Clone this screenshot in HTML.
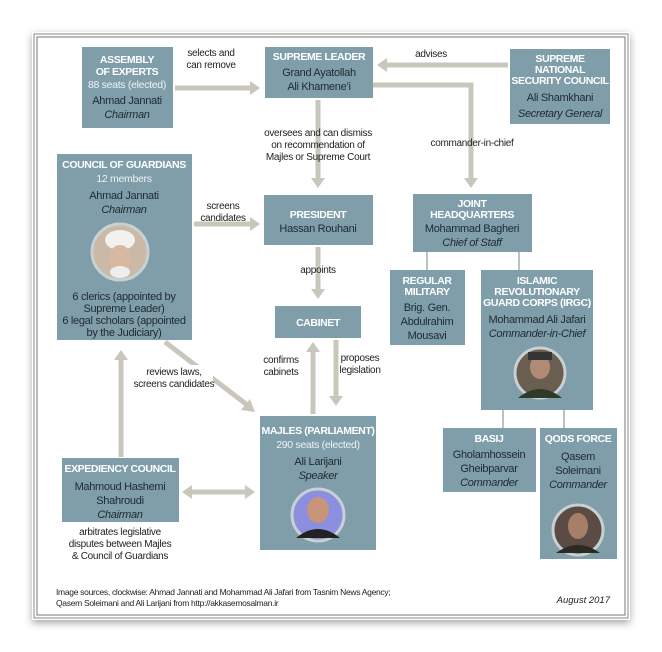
<!DOCTYPE html>
<html><head><meta charset="utf-8"><style>
body{margin:0;background:#fff;}
svg{display:block;font-family:"Liberation Sans",sans-serif;}
.h{fill:#fff;font-weight:bold;font-size:10.5px;letter-spacing:-0.4px}
.t{fill:#1e2a30;font-size:11px;letter-spacing:-0.3px}
.w{fill:#eef3f5;font-size:10.5px;letter-spacing:-0.3px}
.i{font-style:italic}
.l{fill:#222;font-size:10px;letter-spacing:-0.3px}
.b{fill:#7f9ea9}
.a{stroke:#c9c7bc;stroke-width:5;fill:none}
.ah{fill:#c9c7bc}
.th{stroke:#8a999f;stroke-width:1.2}
</style></head><body>
<svg width="662" height="652" viewBox="0 0 662 652" text-anchor="middle">
<defs><filter id="s" x="-5%" y="-5%" width="110%" height="110%"><feDropShadow dx="0" dy="3" stdDeviation="4" flood-opacity="0.35"/></filter></defs>
<rect x="0" y="0" width="662" height="652" fill="#fff"/>
<rect x="32" y="32" width="598" height="588" fill="#fff" filter="url(#s)"/>
<rect x="34" y="34" width="594" height="584" fill="none" stroke="#888" stroke-width="1"/>
<rect x="37" y="37" width="588" height="578" fill="none" stroke="#777" stroke-width="1"/>

<!-- arrows -->
<line class="a" x1="175" y1="88" x2="250" y2="88"/><polygon class="ah" points="250,81 260,88 250,95"/>
<line class="a" x1="508" y1="65" x2="387" y2="65"/><polygon class="ah" points="387,58 377,65 387,72"/>
<polyline class="a" points="373,85 471,85 471,178"/><polygon class="ah" points="464,178 471,188 478,178"/>
<line class="a" x1="318" y1="100" x2="318" y2="178"/><polygon class="ah" points="311,178 318,188 325,178"/>
<line class="a" x1="194" y1="224" x2="250" y2="224"/><polygon class="ah" points="250,217 260,224 250,231"/>
<line class="a" x1="318" y1="247" x2="318" y2="289"/><polygon class="ah" points="311,289 318,299 325,289"/>
<line class="a" x1="313" y1="414" x2="313" y2="352"/><polygon class="ah" points="306,352 313,342 320,352"/>
<line class="a" x1="336" y1="340" x2="336" y2="396"/><polygon class="ah" points="329,396 336,406 343,396"/>
<line class="a" x1="165" y1="342" x2="246" y2="404"/><polygon class="ah" points="241,410 255,412 250,399"/>
<line class="a" x1="121" y1="457" x2="121" y2="360"/><polygon class="ah" points="114,360 121,350 128,360"/>
<line class="a" x1="192" y1="492" x2="245" y2="492"/><polygon class="ah" points="192,485 182,492 192,499"/><polygon class="ah" points="245,485 255,492 245,499"/>
<line class="th" x1="427" y1="252" x2="427" y2="271"/><line class="th" x1="519" y1="252" x2="519" y2="271"/>
<line class="th" x1="503" y1="409" x2="503" y2="429"/><line class="th" x1="564" y1="409" x2="564" y2="429"/>
<rect x="137" y="365" width="76" height="25" fill="#fff"/>

<!-- boxes -->
<rect class="b" x="82" y="47" width="91" height="81"/>
<rect class="b" x="265" y="47" width="108" height="51"/>
<rect class="b" x="510" y="49" width="100" height="75"/>
<rect class="b" x="57" y="154" width="135" height="186"/>
<rect class="b" x="264" y="195" width="109" height="50"/>
<rect class="b" x="413" y="194" width="119" height="58"/>
<rect class="b" x="390" y="270" width="75" height="75"/>
<rect class="b" x="481" y="270" width="112" height="140"/>
<rect class="b" x="275" y="306" width="86" height="32"/>
<rect class="b" x="260" y="416" width="116" height="134"/>
<rect class="b" x="62" y="458" width="117" height="64"/>
<rect class="b" x="443" y="428" width="93" height="64"/>
<rect class="b" x="540" y="428" width="77" height="131"/>

<!-- photos -->
<g stroke="#c8d0d3" stroke-width="3">
<circle cx="120" cy="252" r="28" fill="#c9b9a6"/>
<circle cx="540" cy="373" r="25" fill="#6a5e50"/>
<circle cx="318" cy="515" r="26" fill="#8c8fe0"/>
<circle cx="578" cy="530" r="25" fill="#5a4c44"/>
</g>
<ellipse cx="120" cy="240" rx="15" ry="10" fill="#f1f1ee"/><ellipse cx="120" cy="258" rx="11" ry="13" fill="#d7b8a0"/><ellipse cx="120" cy="272" rx="10" ry="6" fill="#eee"/>
<ellipse cx="540" cy="367" rx="10" ry="12" fill="#b08a74"/><rect x="528" y="352" width="24" height="8" fill="#333"/><path d="M518 398 Q540 380 562 398Z" fill="#2f3a28"/>
<ellipse cx="318" cy="510" rx="11" ry="13" fill="#c8957a"/><path d="M296 538 Q318 520 340 538Z" fill="#222"/>
<ellipse cx="578" cy="526" rx="10" ry="13" fill="#a77e67"/><path d="M556 553 Q578 537 600 553Z" fill="#2c2a22"/>

<!-- text -->
<text class="h" x="127" y="63">ASSEMBLY</text><text class="h" x="127" y="75">OF EXPERTS</text>
<text class="w" x="127" y="88">88 seats (elected)</text>
<text class="t" x="127" y="104">Ahmad Jannati</text><text class="t i" x="127" y="118">Chairman</text>

<text class="h" x="319" y="60">SUPREME LEADER</text>
<text class="t" x="319" y="76">Grand Ayatollah</text><text class="t" x="319" y="90">Ali Khamene’i</text>

<text class="h" x="560" y="62">SUPREME</text><text class="h" x="560" y="73">NATIONAL</text><text class="h" x="560" y="84">SECURITY COUNCIL</text>
<text class="t" x="560" y="101">Ali Shamkhani</text><text class="t i" x="560" y="117">Secretary General</text>

<text class="h" x="124" y="168">COUNCIL OF GUARDIANS</text>
<text class="w" x="124" y="182">12 members</text>
<text class="t" x="124" y="199">Ahmad Jannati</text><text class="t i" x="124" y="213">Chairman</text>
<text class="t" x="124" y="300">6 clerics (appointed by</text><text class="t" x="124" y="312">Supreme Leader)</text>
<text class="t" x="124" y="324">6 legal scholars (appointed</text><text class="t" x="124" y="336">by the Judiciary)</text>

<text class="h" x="318" y="218">PRESIDENT</text><text class="t" x="318" y="232">Hassan Rouhani</text>

<text class="h" x="472" y="207">JOINT</text><text class="h" x="472" y="218">HEADQUARTERS</text>
<text class="t" x="472" y="232">Mohammad Bagheri</text><text class="t i" x="472" y="246">Chief of Staff</text>

<text class="h" x="427" y="284">REGULAR</text><text class="h" x="427" y="295">MILITARY</text>
<text class="t" x="427" y="311">Brig. Gen.</text><text class="t" x="427" y="325">Abdulrahim</text><text class="t" x="427" y="339">Mousavi</text>

<text class="h" x="537" y="284">ISLAMIC</text><text class="h" x="537" y="295">REVOLUTIONARY</text><text class="h" x="537" y="306">GUARD CORPS (IRGC)</text>
<text class="t" x="537" y="323">Mohammad Ali Jafari</text><text class="t i" x="537" y="337">Commander-in-Chief</text>

<text class="h" x="318" y="326">CABINET</text>

<text class="h" x="318" y="434">MAJLES (PARLIAMENT)</text>
<text class="w" x="318" y="448">290 seats (elected)</text>
<text class="t" x="318" y="465">Ali Larijani</text><text class="t i" x="318" y="479">Speaker</text>

<text class="h" x="120" y="472">EXPEDIENCY COUNCIL</text>
<text class="t" x="120" y="490">Mahmoud Hashemi</text><text class="t" x="120" y="504">Shahroudi</text><text class="t i" x="120" y="518">Chairman</text>

<text class="h" x="489" y="442">BASIJ</text>
<text class="t" x="489" y="458">Gholamhossein</text><text class="t" x="489" y="472">Gheibparvar</text><text class="t i" x="489" y="486">Commander</text>

<text class="h" x="578" y="442">QODS FORCE</text>
<text class="t" x="578" y="460">Qasem</text><text class="t" x="578" y="474">Soleimani</text><text class="t i" x="578" y="488">Commander</text>

<!-- labels -->
<text class="l" x="211" y="56">selects and</text><text class="l" x="211" y="68">can remove</text>
<text class="l" x="431" y="57">advises</text>
<text class="l" x="318" y="136">oversees and can dismiss</text><text class="l" x="318" y="148">on recommendation of</text><text class="l" x="318" y="160">Majles or Supreme Court</text>
<text class="l" x="472" y="146">commander-in-chief</text>
<text class="l" x="223" y="209">screens</text><text class="l" x="223" y="221">candidates</text>
<text class="l" x="318" y="273">appoints</text>
<text class="l" x="281" y="363">confirms</text><text class="l" x="281" y="375">cabinets</text>
<text class="l" x="360" y="361">proposes</text><text class="l" x="360" y="373">legislation</text>
<text class="l" x="174" y="375">reviews laws,</text><text class="l" x="174" y="387">screens candidates</text>
<text class="l" x="120" y="535">arbitrates legislative</text><text class="l" x="120" y="547">disputes between Majles</text><text class="l" x="120" y="559">&amp; Council of Guardians</text>

<text x="56" y="595" text-anchor="start" style="font-size:8.5px;fill:#222;letter-spacing:-0.3px">Image sources, clockwise: Ahmad Jannati and Mohammad Ali Jafari from Tasnim News Agency;</text>
<text x="56" y="606" text-anchor="start" style="font-size:8.5px;fill:#222;letter-spacing:-0.3px">Qasem Soleimani and Ali Larijani from http://akkasemosalman.ir</text>
<text x="610" y="603" text-anchor="end" class="i" style="font-size:9.5px;fill:#222">August 2017</text>
</svg>
</body></html>
